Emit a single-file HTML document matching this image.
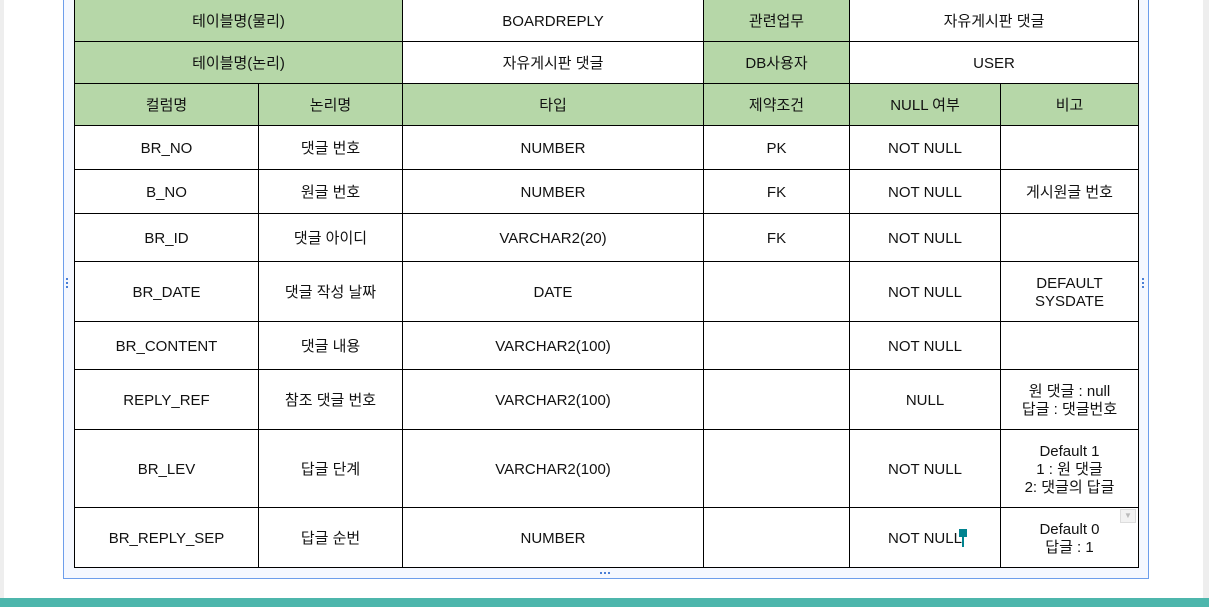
<!DOCTYPE html>
<html><head><meta charset="utf-8"><style>
html,body{margin:0;padding:0;width:1209px;height:607px;overflow:hidden;background:#fff;position:relative;font-family:"Liberation Sans","Noto Sans CJK KR",sans-serif;}
.c{position:absolute;box-sizing:border-box;border:1px solid #000;display:flex;align-items:center;justify-content:center;text-align:center;font-size:15px;line-height:18px;color:#111;background:#fff;padding-top:2px}
.g{background:#b6d7a8}
.h{position:absolute;width:2px;height:2px;background:#4a7fd6}
</style></head><body>
<div style="position:absolute;left:0;top:0;width:4px;height:598px;background:#eee"></div>
<div style="position:absolute;left:1203px;top:0;width:6px;height:598px;background:#eee"></div>
<div style="position:absolute;left:63px;top:-2px;width:1086px;height:581px;box-sizing:border-box;border:1px solid #6d9eeb;background:#f5f8ff"></div>
<div style="position:absolute;left:0;top:598px;width:1209px;height:9px;background:#4db6ac"></div>
<div id="t"></div>
<div class="h" style="left:66px;top:278px"></div>
<div class="h" style="left:66px;top:282px"></div>
<div class="h" style="left:66px;top:286px"></div>
<div class="h" style="left:1142px;top:278px"></div>
<div class="h" style="left:1142px;top:282px"></div>
<div class="h" style="left:1142px;top:286px"></div>
<div class="h" style="left:600px;top:572px"></div>
<div class="h" style="left:604px;top:572px"></div>
<div class="h" style="left:608px;top:572px"></div>
<div style="position:absolute;left:959px;top:529px;width:8px;height:8px;background:#00838f"></div>
<div style="position:absolute;left:962px;top:535px;width:2px;height:12px;background:#00838f"></div>
<div style="position:absolute;left:1120px;top:509px;width:16px;height:14px;background:#f2f2f2;border:1px solid #ddd;box-sizing:border-box;color:#bbb;font-size:8px;line-height:12px;text-align:center">▼</div>
<script>
const cols=[74,258,402,703,849,1000,1138];
const rows=[-1,41,83,125,169,213,261,321,369,429,507,567];
const cells=[
[0,0,2,'테이블명(물리)',1],[0,2,3,'BOARDREPLY',0],[0,3,4,'관련업무',1],[0,4,6,'자유게시판 댓글',0],
[1,0,2,'테이블명(논리)',1],[1,2,3,'자유게시판 댓글',0],[1,3,4,'DB사용자',1],[1,4,6,'USER',0],
[2,0,1,'컬럼명',1],[2,1,2,'논리명',1],[2,2,3,'타입',1],[2,3,4,'제약조건',1],[2,4,5,'NULL 여부',1],[2,5,6,'비고',1]];
const data=[
['BR_NO','댓글 번호','NUMBER','PK','NOT NULL',''],
['B_NO','원글 번호','NUMBER','FK','NOT NULL','게시원글 번호'],
['BR_ID','댓글 아이디','VARCHAR2(20)','FK','NOT NULL',''],
['BR_DATE','댓글 작성 날짜','DATE','','NOT NULL','DEFAULT<br>SYSDATE'],
['BR_CONTENT','댓글 내용','VARCHAR2(100)','','NOT NULL',''],
['REPLY_REF','참조 댓글 번호','VARCHAR2(100)','','NULL','원 댓글 : null<br>답글 : 댓글번호'],
['BR_LEV','답글 단계','VARCHAR2(100)','','NOT NULL','Default 1<br>1 : 원 댓글<br>2: 댓글의 답글'],
['BR_REPLY_SEP','답글 순번','NUMBER','','NOT NULL','Default 0<br>답글 : 1']];
data.forEach((r,i)=>r.forEach((v,j)=>cells.push([i+3,j,j+1,v,0])));
const t=document.getElementById('t');
cells.forEach(([r,a,b,txt,g])=>{
const d=document.createElement('div');
d.className='c'+(g?' g':'');
d.style.left=cols[a]+'px';d.style.top=rows[r]+'px';
d.style.width=(cols[b]-cols[a]+1)+'px';d.style.height=(rows[r+1]-rows[r]+1)+'px';
d.innerHTML=txt;


t.appendChild(d);});
</script>
</body></html>
